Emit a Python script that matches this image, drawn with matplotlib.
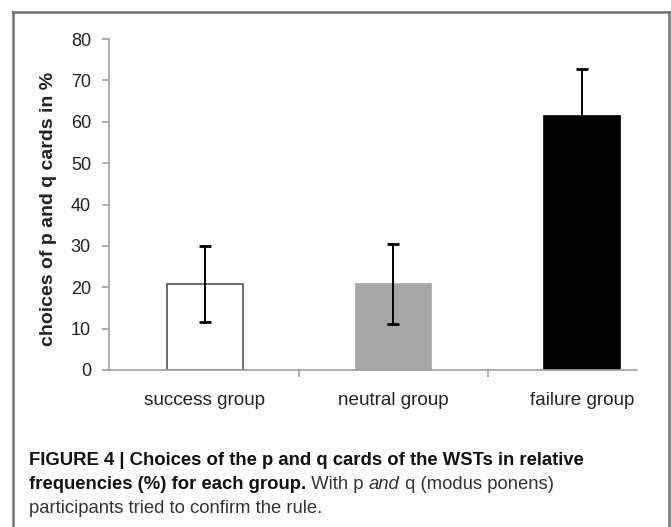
import matplotlib
matplotlib.use('Agg')
import matplotlib.pyplot as plt
from matplotlib.lines import Line2D

plt.rcParams['font.family'] = ['Liberation Sans', 'DejaVu Sans']

# 数据
groups = ['success group', 'neutral group', 'failure group']
means = [20.8, 20.8, 61.5]
err_low = [11.6, 11.1, 50.3]
err_high = [30.0, 30.5, 72.7]
bar_colors = ['white', '#a6a6a6', 'black']
bar_edges = ['#555555', '#a6a6a6', 'black']
yticks = [0, 10, 20, 30, 40, 50, 60, 70, 80]

caption1 = 'FIGURE 4 | Choices of the p and q cards of the WSTs in relative'
caption2 = [('frequencies (%) for each group.', 'bold', 'normal'),
            (' With p ', 'normal', 'normal'),
            ('and', 'normal', 'italic'),
            (' q (modus ponens)', 'normal', 'normal')]
caption3 = 'participants tried to confirm the rule.'

fig = plt.figure(figsize=(6.71, 5.27), dpi=100)
ax = fig.add_axes([109 / 671, 1 - 370 / 527, (637 - 109) / 671, (370 - 39) / 527])

x = list(range(len(groups)))
yerr = [[m - lo for m, lo in zip(means, err_low)],
        [hi - m for m, hi in zip(means, err_high)]]
ax.bar(x, means, width=0.4, color=bar_colors, edgecolor=bar_edges,
       linewidth=1.2, zorder=2)
ax.errorbar(x, means, yerr=yerr, fmt='none', ecolor='black',
            elinewidth=1.4, capsize=4, capthick=2, zorder=3)

ax.set_xlim(-0.509, 2.292)
ax.set_ylim(0, 80)
ax.set_yticks(yticks)
ax.set_xticks(x)
ax.set_xticklabels(groups, fontsize=13.6, color='#222222')
ax.set_xticks([0.5, 1.5], minor=True)
ax.tick_params(axis='x', which='major', length=0, pad=16)
ax.tick_params(axis='x', which='minor', length=5, direction='out',
               color='#a0a0a0', width=1.2)
ax.tick_params(axis='y', length=5, direction='out', color='#a0a0a0',
               width=1.2, labelsize=13, labelcolor='#222222', pad=8)

for s in ['top', 'right']:
    ax.spines[s].set_visible(False)
for s in ['left', 'bottom']:
    ax.spines[s].set_color('#a0a0a0')
    ax.spines[s].set_linewidth(1.2)

ax.set_ylabel('choices of p and q cards in %', fontsize=14,
              fontweight='bold', color='#222222', va='center')
ax.yaxis.set_label_coords(-0.1155, 0.486)

# 外框
frame_col = '#707070'
L, R, T = 12.7 / 671, 669 / 671, 1 - 12 / 527
fig.add_artist(Line2D([L, L], [0, T], transform=fig.transFigure,
                      color=frame_col, lw=1.8))
fig.add_artist(Line2D([L, R], [T, T], transform=fig.transFigure,
                      color=frame_col, lw=1.8))
fig.add_artist(Line2D([R, R], [0, T], transform=fig.transFigure,
                      color=frame_col, lw=1.8))

# 图注
fig.canvas.draw()
renderer = fig.canvas.get_renderer()
x0 = 29 / 671
t = fig.text(x0, 0, caption1, fontsize=12, fontweight='bold')
w = t.get_window_extent(renderer).width
fs = 12 * 555 / w
t.set_fontsize(fs)
t.set_y(1 - 465 / 527)
t.set_color('#111111')

xpos = 29
for txt, wt, st in caption2:
    tt = fig.text(xpos / 671, 1 - 489 / 527, txt, fontsize=fs,
                  fontweight=wt, fontstyle=st,
                  color='#111111' if wt == 'bold' else '#333333')
    fig.canvas.draw()
    xpos += tt.get_window_extent(renderer).width

fig.text(x0, 1 - 513 / 527, caption3, fontsize=fs, color='#333333')

fig.savefig('out.png', dpi=100)
